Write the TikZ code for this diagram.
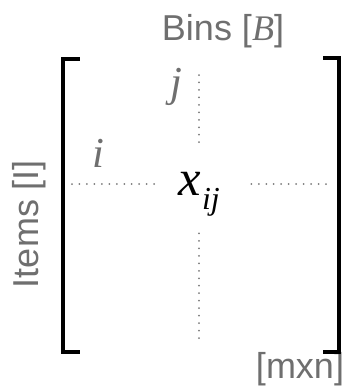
\documentclass[tikz,border=0pt]{standalone}
\usepackage{fontspec}
\setmainfont{Liberation Sans}
\newfontfamily\timesfont{Liberation Serif}
\usetikzlibrary{positioning, calc}
\definecolor{LabelGray}{HTML}{6F6F6F}
\definecolor{DotGray}{HTML}{7A7A7A}

\begin{document}
\begin{tikzpicture}[x=0.75pt, y=-0.75pt,
        axislabel/.style={inner sep=0, anchor=base, text=LabelGray, font=\fontsize{27}{30}\selectfont},
        index/.style={inner sep=0, anchor=base, text=LabelGray, font=\fontsize{32}{34}\selectfont\timesfont\itshape},
        entry/.style={inner sep=0, anchor=base, font=\fontsize{38}{40}\selectfont\timesfont\itshape},
        bracket/.style={line width=3.3pt, line cap=rect, black},
        dots/.style={DotGray, line width=1.5pt, line cap=round, dash pattern=on 0pt off 5.6pt}]
        \useasboundingbox (0,0) rectangle (342,387);

        % labels round the matrix
        \node[axislabel] (bins) at (223,40) {Bins [{\timesfont\itshape B}]};
        \node[axislabel, rotate=90] (items) at (38,224) {Items [I]};
        \node[axislabel] (size) at (300,378) {[mxn]};

        % the entry and its indices
        \node[entry] (xij) at (199,195) {x\kern1pt\raisebox{-10.5pt}{\fontsize{24}{24}\selectfont ij}};
        \node[index] (iidx) at (98,167) {i};
        \node[index] (jidx) at (176,96) {j};

        % brackets
        \draw[bracket] (78,59) -- (63,59) -- (63,352) -- (78,352);
        \draw[bracket] (325,58) -- (339,58) -- (339,352) -- (325,352);

        % row and column guides
        \coordinate (cross) at (199,184);
        \coordinate (rowL) at (72,184);
        \coordinate (rowR) at (326,184);
        \coordinate (colT) at (199,75);
        \coordinate (colB) at (199,338);
        \draw[dots, shorten >=31pt] (rowL) -- (cross);
        \draw[dots, shorten >=37pt] (rowR) -- (cross);
        \draw[dots, shorten >=26pt] (colT) -- (cross);
        \draw[dots, shorten >=36pt] (colB) -- (cross);
\end{tikzpicture}
\end{document}
